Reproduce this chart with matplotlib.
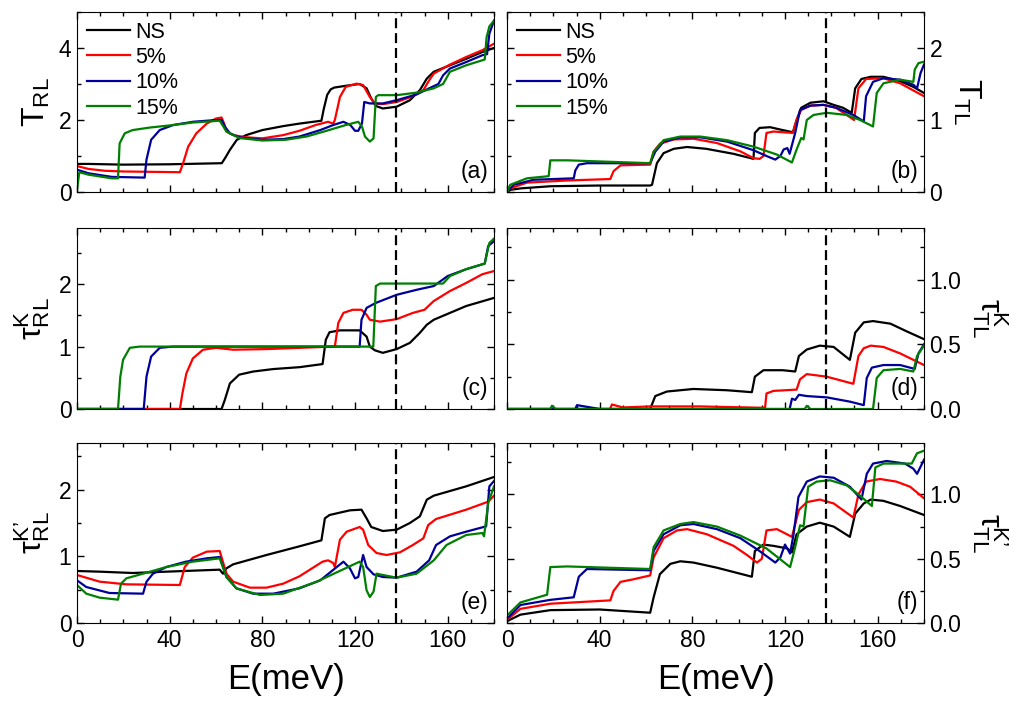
import matplotlib
matplotlib.use("Agg")
import matplotlib.pyplot as plt
from matplotlib.ticker import MultipleLocator

# series names and colours
series = ["NS", "5%", "10%", "15%"]
colors = ["black", "#ff0000", "#000099", "#008000"]
e_marker = 137.5  # dashed line position (meV)

# (a) T_RL : (E, value)
a_ns = [(0, 0.78), (5, 0.78), (20, 0.76), (40, 0.77), (62.5, 0.8), (64, 0.95), (66, 1.17), (69, 1.45),
        (73, 1.58), (80, 1.72), (89, 1.83), (96, 1.9), (105.5, 1.98), (106.5, 2.3), (108, 2.7),
        (109.5, 2.85), (111, 2.9), (116, 2.95), (122, 3.0), (125, 2.88), (127, 2.6), (129, 2.39),
        (132, 2.32), (138, 2.37), (143.7, 2.55), (148, 2.83), (151, 3.15), (154, 3.34), (161, 3.52),
        (168, 3.7), (175, 3.89), (180, 4.0)]
a_5 = [(0, 0.72), (5, 0.64), (12, 0.59), (20, 0.57), (44.4, 0.55), (45.8, 0.8), (48, 1.26), (51.5, 1.63),
       (56, 1.9), (60, 2.04), (62.4, 2.07), (63.5, 1.9), (64.5, 1.68), (67.4, 1.58), (73, 1.52), (80, 1.49),
       (89, 1.58), (96, 1.7), (103, 1.86), (108.4, 1.95), (110.6, 1.9), (111.3, 2.0), (113.5, 2.64),
       (116, 2.92), (120.7, 3.01), (123.5, 2.97), (126.4, 2.64), (128.6, 2.46), (132, 2.44), (138, 2.5),
       (143.7, 2.63), (149.5, 2.83), (152, 3.1), (154, 3.29), (161, 3.54), (168, 3.75), (175, 3.94),
       (180, 4.12)]
a_10 = [(0, 0.62), (5, 0.52), (15, 0.42), (29.2, 0.4), (30, 0.9), (32, 1.45), (35.7, 1.72), (41.5, 1.86),
        (50, 1.95), (60, 2.0), (62.4, 2.0), (64, 1.8), (66, 1.63), (70, 1.52), (80, 1.45), (89, 1.47),
        (96, 1.54), (105, 1.72), (110.6, 1.86), (115, 1.95), (118, 1.86), (120, 1.7), (121.4, 1.7),
        (123, 1.9), (124, 2.5), (126.4, 2.46), (132, 2.46), (138, 2.55), (146.6, 2.71), (152, 2.88),
        (156, 3.0), (158, 3.24), (161, 3.43), (168, 3.61), (175, 3.8), (177, 3.83), (178, 4.4), (180, 4.76)]
a_15 = [(0, 0.05), (1, 0.55), (5, 0.48), (15, 0.38), (17.7, 0.38), (18.4, 1.35), (20.6, 1.63), (24, 1.72),
        (31.4, 1.79), (41.5, 1.86), (50, 1.93), (61.6, 1.98), (64.5, 1.68), (70, 1.5), (80, 1.43), (90, 1.45),
        (99, 1.54), (107.7, 1.7), (116, 1.86), (121.4, 1.95), (123, 1.82), (124.3, 1.54), (126.4, 1.4),
        (128, 1.49), (129, 2.64), (130, 2.69), (138, 2.69), (146.6, 2.76), (154, 2.88), (158, 3.0),
        (161, 3.34), (168, 3.52), (176, 3.68), (176.8, 4.3), (178, 4.6), (180, 4.76)]

# (b) T_TL
b_ns = [(0, 0.0), (1.5, 0.03), (5.8, 0.05), (18.7, 0.08), (40, 0.09), (61.8, 0.09), (62.6, 0.1),
        (64.7, 0.4), (67.6, 0.54), (72, 0.6), (77.7, 0.625), (86, 0.6), (97.8, 0.53), (106.4, 0.46),
        (107, 0.82), (109, 0.89), (113.6, 0.9), (119, 0.86), (123.4, 0.83), (125, 1.0), (127, 1.17),
        (131, 1.24), (136.6, 1.26), (141, 1.21), (145, 1.17), (148.8, 1.1), (150.3, 1.44), (153, 1.57),
        (157, 1.6), (162.5, 1.6), (169.7, 1.54), (175.4, 1.46), (180, 1.375)]
b_5 = [(0, 0.0), (1.4, 0.05), (8.6, 0.13), (26, 0.16), (44.6, 0.18), (46, 0.29), (49, 0.37), (54.6, 0.375),
       (61.8, 0.38), (63.3, 0.56), (66, 0.67), (72, 0.73), (80.5, 0.74), (90.6, 0.68), (100.7, 0.565),
       (106.4, 0.47), (109, 0.46), (110.7, 0.5), (112, 0.82), (115, 0.84), (123.4, 0.82), (125, 1.0),
       (127, 1.14), (131, 1.2), (136.6, 1.21), (142, 1.17), (149.8, 1.0), (151.7, 1.44), (155, 1.57),
       (162.5, 1.58), (169.7, 1.51), (180, 1.33)]
b_10 = [(0, 0.0), (2.9, 0.1), (11.5, 0.17), (28.8, 0.19), (29.5, 0.3), (31, 0.38), (34.5, 0.4), (61.8, 0.4),
        (64, 0.56), (67.6, 0.7), (74.8, 0.76), (83.4, 0.76), (95, 0.7), (106.4, 0.58), (112, 0.5),
        (115.8, 0.45), (118, 0.5), (119.4, 0.59), (121, 0.61), (122, 0.53), (124.4, 0.82), (126.5, 1.14),
        (131, 1.2), (136.6, 1.21), (142, 1.17), (149.5, 1.07), (154, 0.98), (155, 1.33), (158, 1.53),
        (162.5, 1.58), (169.7, 1.56), (175.4, 1.49), (177, 1.44), (178.5, 1.65), (180, 1.77)]
b_15 = [(0, 0.0), (1.4, 0.1), (8.6, 0.19), (18, 0.22), (18.7, 0.44), (26, 0.44), (61.8, 0.4), (63.3, 0.56),
        (67.6, 0.72), (74.8, 0.77), (83.4, 0.77), (95, 0.72), (106.4, 0.63), (116.5, 0.52), (123, 0.41),
        (125, 0.59), (127, 0.75), (128, 0.73), (129.4, 1.0), (132.3, 1.07), (138, 1.1), (146.7, 1.07),
        (152.4, 1.0), (158, 0.91), (159.6, 1.375), (162.5, 1.51), (169.7, 1.56), (175.4, 1.53), (176, 1.7),
        (177.6, 1.79), (180, 1.81)]

# (c) tau^K_RL
c_ns = [(0, 0.0), (62.4, 0.0), (63.8, 0.145), (66, 0.41), (70, 0.55), (76, 0.6), (84.7, 0.64), (96, 0.67),
        (106, 0.72), (107.4, 1.11), (109, 1.23), (113.5, 1.26), (122, 1.26), (125, 1.16), (126.4, 1.0),
        (128.6, 0.94), (132, 0.9), (138, 0.96), (143.7, 1.06), (148, 1.22), (151, 1.35), (154, 1.43),
        (161, 1.54), (168, 1.65), (180, 1.78)]
c_5 = [(0, 0.0), (44.4, 0.0), (45.5, 0.25), (47.2, 0.57), (50, 0.81), (54.4, 0.95), (60, 0.98), (67.4, 0.95),
       (81.8, 0.96), (96, 0.98), (110.6, 1.0), (111.3, 1.0), (112.8, 1.38), (115, 1.54), (119, 1.59),
       (122.8, 1.59), (125, 1.51), (126.4, 1.43), (130.8, 1.4), (138, 1.44), (145, 1.54), (150, 1.59),
       (154, 1.73), (161, 1.89), (168, 2.02), (175, 2.16), (180, 2.21)]
c_10 = [(0, 0.0), (28.8, 0.0), (30, 0.52), (32, 0.84), (35.7, 0.98), (41.5, 1.0), (122, 1.0), (122.8, 1.43),
        (125, 1.62), (129, 1.7), (138, 1.83), (146.6, 1.91), (154, 1.97), (160, 2.13), (168, 2.24),
        (176, 2.33), (177.5, 2.61), (180, 2.69)]
c_15 = [(0, 0.0), (17.7, 0.0), (18.7, 0.52), (19.9, 0.79), (22.8, 0.98), (27, 1.0), (127.9, 1.0), (129, 1.97),
        (130.8, 2.01), (158, 2.01), (161, 2.13), (168, 2.24), (176, 2.33), (177, 2.5), (178, 2.66),
        (180, 2.73)]

# (d) tau^K_TL
d_ns = [(0, 0.0), (61.8, 0.0), (64, 0.1), (69, 0.135), (80.5, 0.155), (95, 0.145), (105.7, 0.13), (107, 0.25),
        (110.7, 0.3), (119, 0.3), (124.4, 0.29), (126, 0.41), (129.4, 0.46), (135, 0.49), (141, 0.48),
        (148, 0.38), (150.3, 0.59), (154, 0.67), (158, 0.68), (165.5, 0.66), (172.6, 0.6), (180, 0.54)]
d_5 = [(0, 0.0), (44.5, 0.0), (45.3, 0.035), (50, 0.012), (61.8, 0.02), (83.4, 0.02), (109, 0.01),
       (111.4, 0.01), (112, 0.12), (115, 0.14), (125, 0.15), (126.5, 0.23), (129.4, 0.27), (138, 0.25),
       (149.5, 0.195), (151.7, 0.41), (154, 0.47), (157, 0.49), (162.5, 0.48), (169.7, 0.43), (180, 0.34)]
d_10 = [(0, 0.0), (29.5, 0.0), (30.2, 0.03), (40, 0.0), (122, 0.0), (123, 0.08), (124.4, 0.07), (126, 0.11),
        (129.4, 0.1), (138, 0.09), (148, 0.057), (154, 0.03), (155.3, 0.24), (157.5, 0.32), (162.5, 0.34),
        (169.7, 0.34), (176, 0.31), (177.6, 0.43), (180, 0.5)]
d_15 = [(0, 0.0), (18.7, 0.0), (19.4, 0.025), (21, 0.0), (128.5, 0.0), (129.4, 0.025), (131, 0.0),
        (158, 0.0), (159.6, 0.24), (162.5, 0.3), (169.7, 0.31), (175.4, 0.29), (177, 0.41), (180, 0.49)]

# (e) tau^K'_RL
e_ns = [(0, 0.78), (9.8, 0.77), (24, 0.75), (38.6, 0.77), (61.6, 0.8), (63, 0.74), (64.5, 0.82), (67.4, 0.88),
        (74.6, 0.95), (81.8, 1.02), (96, 1.15), (105.5, 1.24), (107, 1.57), (109, 1.62), (117.8, 1.69),
        (122.8, 1.7), (125, 1.57), (127, 1.44), (132, 1.38), (138, 1.4), (143.7, 1.5), (148, 1.6),
        (151, 1.85), (154, 1.91), (168, 2.05), (180, 2.19)]
e_5 = [(0, 0.72), (9.8, 0.62), (21.3, 0.58), (44.4, 0.57), (46.5, 0.84), (50, 0.98), (56, 1.07), (61.6, 1.08),
       (64.5, 0.74), (67.4, 0.62), (74.6, 0.53), (81.8, 0.53), (89, 0.59), (96, 0.7), (106, 0.92),
       (108.4, 0.94), (110.6, 0.9), (111.3, 0.84), (113.5, 1.25), (116.4, 1.37), (122, 1.44), (123.5, 1.4),
       (125.7, 1.17), (129.3, 1.05), (133.6, 1.02), (139.4, 1.06), (145, 1.17), (149.5, 1.27), (151.6, 1.47),
       (155, 1.56), (168, 1.7), (177.5, 1.82), (180, 1.91)]
e_10 = [(0, 0.64), (4, 0.54), (14, 0.45), (28.5, 0.44), (30, 0.62), (32.8, 0.74), (38.6, 0.84), (47, 0.92),
        (56, 0.97), (61.6, 0.99), (64.5, 0.69), (68.8, 0.52), (76, 0.44), (84.7, 0.44), (96, 0.52),
        (105, 0.64), (115, 0.92), (117.8, 0.82), (120, 0.67), (121.4, 0.69), (123.5, 1.02), (125, 0.84),
        (128, 0.73), (132, 0.69), (138, 0.68), (146.6, 0.77), (152, 0.94), (155, 1.17), (161, 1.3),
        (168, 1.37), (176.6, 1.45), (178, 2.05), (180, 2.13)]
e_15 = [(0, 0.57), (4, 0.44), (9.8, 0.38), (17.7, 0.35), (19, 0.59), (21.3, 0.67), (28.5, 0.74), (38.6, 0.84),
        (50, 0.92), (61.6, 0.97), (64.5, 0.69), (68.8, 0.52), (79, 0.42), (89, 0.44), (103.5, 0.62),
        (122, 0.92), (123.5, 0.84), (125, 0.49), (126.4, 0.39), (128, 0.47), (129.3, 0.74), (132, 0.72),
        (138, 0.68), (146.6, 0.74), (154, 0.94), (159.5, 1.17), (168, 1.32), (175, 1.35), (175.7, 1.3),
        (177.5, 1.8), (180, 2.05)]

# (f) tau^K'_TL
f_ns = [(0.7, 0.02), (5.8, 0.065), (18.7, 0.1), (40, 0.105), (61.8, 0.08), (63.3, 0.2), (66, 0.38),
        (70.5, 0.46), (74.8, 0.48), (80.5, 0.47), (90.6, 0.43), (105.7, 0.36), (107, 0.56), (110.7, 0.61),
        (115, 0.6), (121, 0.58), (123, 0.55), (125, 0.69), (129.4, 0.75), (135, 0.78), (141, 0.75),
        (148, 0.67), (150.3, 0.85), (154, 0.93), (157, 0.96), (162.5, 0.95), (169.7, 0.91), (180, 0.84)]
f_5 = [(0.7, 0.035), (5.8, 0.11), (18.7, 0.15), (44.6, 0.176), (46, 0.25), (49, 0.32), (54.6, 0.34),
       (61.8, 0.37), (63.3, 0.51), (67.6, 0.66), (73.4, 0.72), (77.7, 0.73), (86.3, 0.69), (97.8, 0.6),
       (103.5, 0.53), (107.9, 0.47), (110, 0.5), (112, 0.72), (116.5, 0.73), (123, 0.67), (126, 0.88),
       (129.4, 0.94), (135, 0.96), (141, 0.93), (149.5, 0.82), (151.7, 1.0), (155, 1.1), (161, 1.12),
       (168, 1.1), (174, 1.06), (180, 0.97)]
f_10 = [(0.7, 0.047), (5.8, 0.14), (18.7, 0.18), (28.8, 0.2), (31, 0.36), (34.5, 0.42), (61.8, 0.41),
        (63.3, 0.56), (67.6, 0.69), (74.8, 0.76), (80.5, 0.77), (90.6, 0.73), (100.7, 0.66), (109, 0.56),
        (115.8, 0.47), (118, 0.51), (120, 0.61), (122.2, 0.54), (123.7, 0.69), (125.8, 0.98), (129.4, 1.1),
        (135, 1.14), (141, 1.13), (148, 1.06), (153, 0.96), (155.3, 1.16), (158, 1.24), (163.9, 1.26),
        (171.8, 1.24), (175.4, 1.2), (177, 1.16), (180, 1.27)]
f_15 = [(0.7, 0.07), (5.8, 0.16), (17.3, 0.22), (18.7, 0.435), (26, 0.44), (61.8, 0.42), (63.3, 0.59),
        (67.6, 0.72), (74.8, 0.77), (80.5, 0.785), (90.6, 0.75), (100.7, 0.68), (112, 0.58), (122.2, 0.435),
        (124.4, 0.59), (126.5, 0.76), (128, 0.75), (130, 1.06), (133.7, 1.1), (139.5, 1.11), (146.7, 1.07),
        (152.4, 0.99), (157.5, 0.91), (159, 1.21), (162.5, 1.24), (174.7, 1.24), (177, 1.32), (180, 1.34)]


def draw_panel(ax, curves, ylim, major, minor, ylabel, tag, right=False, legend=False, bottom=False):
    for pts, name, col in zip(curves, series, colors):
        xs = [p[0] for p in pts]
        ys = [p[1] for p in pts]
        ax.plot(xs, ys, color=col, lw=1.6, label=name)
    ax.axvline(e_marker, color="black", lw=1.6, ls=(0, (4.5, 2.2)))
    ax.set_xlim(0, 180)
    ax.set_ylim(*ylim)
    ax.xaxis.set_major_locator(MultipleLocator(40))
    ax.xaxis.set_minor_locator(MultipleLocator(10))
    ax.yaxis.set_major_locator(MultipleLocator(major))
    ax.yaxis.set_minor_locator(MultipleLocator(minor))
    ax.tick_params(which="both", direction="in", top=True, right=True, labelsize=16.5, pad=4)
    ax.tick_params(which="major", length=5, width=1)
    ax.tick_params(which="minor", length=3, width=1)
    if right:
        ax.yaxis.tick_right()
        ax.tick_params(which="both", left=True)
        ax.yaxis.set_label_position("right")
        ax.set_ylabel(ylabel, fontsize=23, rotation=270, va="bottom", labelpad=6)
    else:
        ax.set_ylabel(ylabel, fontsize=23, labelpad=5)
    if bottom:
        ax.set_xlabel("E(meV)", fontsize=25, labelpad=8)
    else:
        ax.tick_params(labelbottom=False)
    ax.text(0.986, 0.05, tag, transform=ax.transAxes, ha="right", va="bottom", fontsize=16.5)
    if legend:
        ax.legend(loc="upper left", frameon=False, fontsize=15.5, handlelength=2.0,
                  handletextpad=0.25, labelspacing=0.2, borderaxespad=0.15, borderpad=0.3)


def main():
    plt.rcParams["font.family"] = ["Liberation Sans", "DejaVu Sans"]
    plt.rcParams["mathtext.fontset"] = "custom"
    plt.rcParams["mathtext.rm"] = "Liberation Sans"
    plt.rcParams["mathtext.it"] = "Liberation Sans:italic"

    W, H = 1017, 706
    fig = plt.figure(figsize=(W / 100, H / 100), dpi=100)

    def box(x0, y0, x1, y1):
        return [x0 / W, 1 - y1 / H, (x1 - x0) / W, (y1 - y0) / H]

    rows = [(12, 192), (228, 409), (443, 623)]
    cols = [(77, 494), (507, 924)]

    ax_a = fig.add_axes(box(cols[0][0], rows[0][0], cols[0][1], rows[0][1]))
    ax_b = fig.add_axes(box(cols[1][0], rows[0][0], cols[1][1], rows[0][1]))
    ax_c = fig.add_axes(box(cols[0][0], rows[1][0], cols[0][1], rows[1][1]))
    ax_d = fig.add_axes(box(cols[1][0], rows[1][0], cols[1][1], rows[1][1]))
    ax_e = fig.add_axes(box(cols[0][0], rows[2][0], cols[0][1], rows[2][1]))
    ax_f = fig.add_axes(box(cols[1][0], rows[2][0], cols[1][1], rows[2][1]))

    prime = "\u2019"
    draw_panel(ax_a, [a_ns, a_5, a_10, a_15], (0, 5.0), 2, 1, r"$\mathrm{T_{RL}}$", "(a)", legend=True)
    draw_panel(ax_b, [b_ns, b_5, b_10, b_15], (0, 2.5), 1, 0.5, r"$\mathrm{T_{TL}}$", "(b)",
               right=True, legend=True)
    draw_panel(ax_c, [c_ns, c_5, c_10, c_15], (0, 2.9), 1, 0.5, r"$\mathrm{\tau^{K}_{RL}}$", "(c)")
    draw_panel(ax_d, [d_ns, d_5, d_10, d_15], (0, 1.4), 0.5, 0.25, r"$\mathrm{\tau^{K}_{TL}}$", "(d)",
               right=True)
    draw_panel(ax_e, [e_ns, e_5, e_10, e_15], (0, 2.7), 1, 0.5,
               r"$\mathrm{\tau^{K" + prime + r"}_{RL}}$", "(e)", bottom=True)
    draw_panel(ax_f, [f_ns, f_5, f_10, f_15], (0, 1.4), 0.5, 0.25,
               r"$\mathrm{\tau^{K" + prime + r"}_{TL}}$", "(f)", right=True, bottom=True)

    fig.savefig("out.png", dpi=100)


if __name__ == "__main__":
    main()
